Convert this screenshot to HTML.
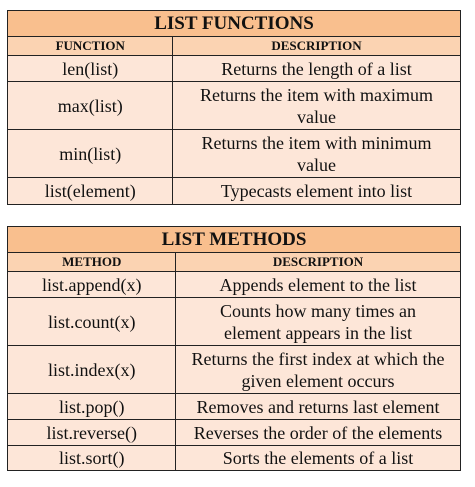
<!DOCTYPE html>
<html><head><style>
body{margin:0;width:475px;height:487px;background:#fff;font-family:"Liberation Serif",serif;position:relative;}
.c{position:absolute;box-sizing:border-box;border:1.5px solid #222;display:flex;align-items:center;justify-content:center;text-align:center;color:#111;background:#fde6d8;font-size:18px;line-height:22px;padding:0 12px;}
.t{background:#f9bf8e;font-weight:bold;font-size:19px;}
.h{background:#fbd3b2;font-weight:bold;font-size:13px;}
</style></head><body>
<div class="c t" style="left:7px;top:10px;width:454px;height:27.5px">LIST FUNCTIONS</div>
<div class="c h" style="left:7px;top:36px;width:166.5px;height:20.5px">FUNCTION</div>
<div class="c h" style="left:172px;top:36px;width:289px;height:20.5px">DESCRIPTION</div>
<div class="c" style="left:7px;top:55px;width:166.5px;height:27.5px">len(list)</div>
<div class="c" style="left:172px;top:55px;width:289px;height:27.5px">Returns the length of a list</div>
<div class="c" style="left:7px;top:81px;width:166.5px;height:49.5px">max(list)</div>
<div class="c" style="left:172px;top:81px;width:289px;height:49.5px">Returns the item with maximum value</div>
<div class="c" style="left:7px;top:129px;width:166.5px;height:49.5px">min(list)</div>
<div class="c" style="left:172px;top:129px;width:289px;height:49.5px">Returns the item with minimum value</div>
<div class="c" style="left:7px;top:177px;width:166.5px;height:27.5px">list(element)</div>
<div class="c" style="left:172px;top:177px;width:289px;height:27.5px">Typecasts element into list</div>

<div class="c t" style="left:7px;top:226px;width:454px;height:27.5px">LIST METHODS</div>
<div class="c h" style="left:7px;top:252px;width:169.5px;height:20.5px">METHOD</div>
<div class="c h" style="left:175px;top:252px;width:286px;height:20.5px">DESCRIPTION</div>
<div class="c" style="left:7px;top:271px;width:169.5px;height:27.5px">list.append(x)</div>
<div class="c" style="left:175px;top:271px;width:286px;height:27.5px">Appends element to the list</div>
<div class="c" style="left:7px;top:297px;width:169.5px;height:49.5px">list.count(x)</div>
<div class="c" style="left:175px;top:297px;width:286px;height:49.5px;padding:0 22px">Counts how many times an element appears in the list</div>
<div class="c" style="left:7px;top:345px;width:169.5px;height:49.5px">list.index(x)</div>
<div class="c" style="left:175px;top:345px;width:286px;height:49.5px;padding:0 6px">Returns the first index at which the given element occurs</div>
<div class="c" style="left:7px;top:393px;width:169.5px;height:27.5px">list.pop()</div>
<div class="c" style="left:175px;top:393px;width:286px;height:27.5px;padding:0 2px">Removes and returns last element</div>
<div class="c" style="left:7px;top:419px;width:169.5px;height:27.5px">list.reverse()</div>
<div class="c" style="left:175px;top:419px;width:286px;height:27.5px;padding:0 2px">Reverses the order of the elements</div>
<div class="c" style="left:7px;top:445px;width:169.5px;height:25.5px">list.sort()</div>
<div class="c" style="left:175px;top:445px;width:286px;height:25.5px">Sorts the elements of a list</div>
</body></html>
